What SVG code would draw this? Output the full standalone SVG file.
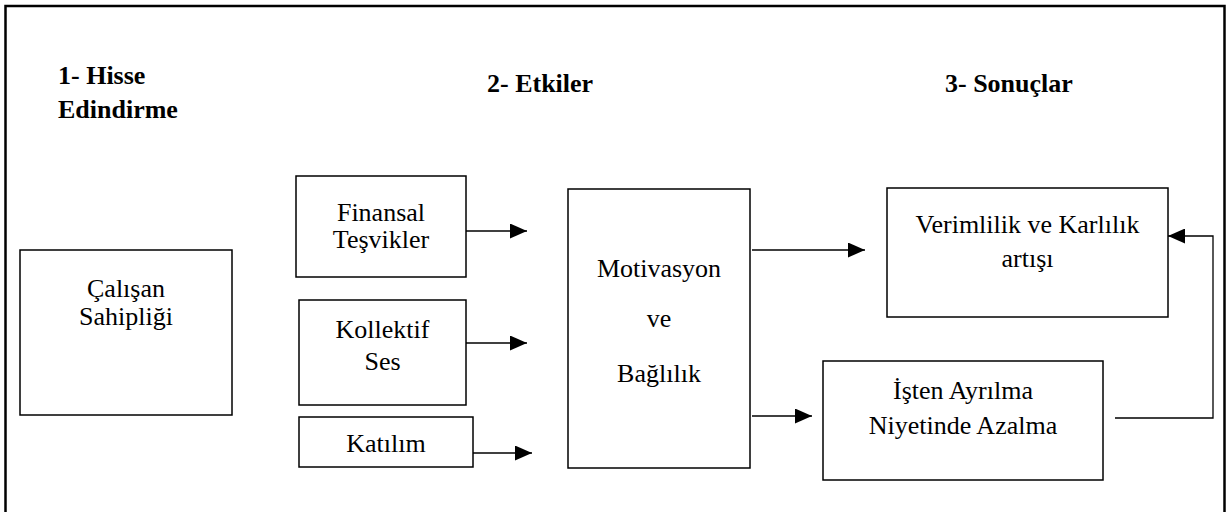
<svg xmlns="http://www.w3.org/2000/svg" width="1227" height="512" viewBox="0 0 1227 512" font-family="Liberation Serif, Times New Roman, DejaVu Serif, serif">
<style>
.box{fill:#fff;stroke:#000;stroke-width:1.5}
.t{font-size:26px;fill:#000;text-anchor:middle}
.h{font-size:26px;font-weight:bold;fill:#000}
.c{fill:none;stroke:#000;stroke-width:1.3}
</style>
<defs>
<marker id="ah" markerUnits="userSpaceOnUse" markerWidth="17" markerHeight="15" refX="17" refY="7.5" orient="auto">
<path d="M0,0 L17,7.5 L0,15 z" fill="#000"/>
</marker>
</defs>
<rect x="0" y="0" width="1227" height="512" fill="#fff"/>
<rect x="5.5" y="6" width="1219" height="520" fill="none" stroke="#000" stroke-width="2.5"/>
<g id="headers">
<text class="h" x="58" y="84">1- Hisse</text>
<text class="h" x="58" y="118">Edindirme</text>
<text class="h" x="487" y="92">2- Etkiler</text>
<text class="h" x="945" y="92">3- Sonuçlar</text>
</g>
<g id="calisan">
<rect class="box" x="20" y="250" width="212" height="165"/>
<text class="t" x="126" y="297">Çalışan</text>
<text class="t" x="126" y="325">Sahipliği</text>
</g>
<g id="finansal">
<rect class="box" x="296" y="176" width="170" height="101"/>
<text class="t" x="381" y="221">Finansal</text>
<text class="t" x="381" y="248">Teşvikler</text>
</g>
<g id="kollektif">
<rect class="box" x="299" y="300" width="167" height="105"/>
<text class="t" x="382.5" y="338">Kollektif</text>
<text class="t" x="382.5" y="370">Ses</text>
</g>
<g id="katilim">
<rect class="box" x="299" y="417" width="174" height="50"/>
<text class="t" x="386" y="452">Katılım</text>
</g>
<g id="motivasyon">
<rect class="box" x="568" y="189" width="182" height="279"/>
<text class="t" x="659" y="277">Motivasyon</text>
<text class="t" x="659" y="327">ve</text>
<text class="t" x="659" y="382">Bağlılık</text>
</g>
<g id="verimlilik">
<rect class="box" x="887" y="188" width="281" height="129"/>
<text class="t" x="1027.5" y="233">Verimlilik ve Karlılık</text>
<text class="t" x="1027.5" y="267">artışı</text>
</g>
<g id="isten">
<rect class="box" x="823" y="361" width="280" height="119"/>
<text class="t" x="963" y="399">İşten Ayrılma</text>
<text class="t" x="963" y="434">Niyetinde Azalma</text>
</g>
<g id="connectors">
<path class="c" d="M466,231 H527" marker-end="url(#ah)"/>
<path class="c" d="M466,343 H527" marker-end="url(#ah)"/>
<path class="c" d="M473,453 H532" marker-end="url(#ah)"/>
<path class="c" d="M752,250 H865" marker-end="url(#ah)"/>
<path class="c" d="M752,416 H812" marker-end="url(#ah)"/>
<path class="c" d="M1115,418 H1213 V236 H1168" marker-end="url(#ah)"/>
</g>
</svg>
